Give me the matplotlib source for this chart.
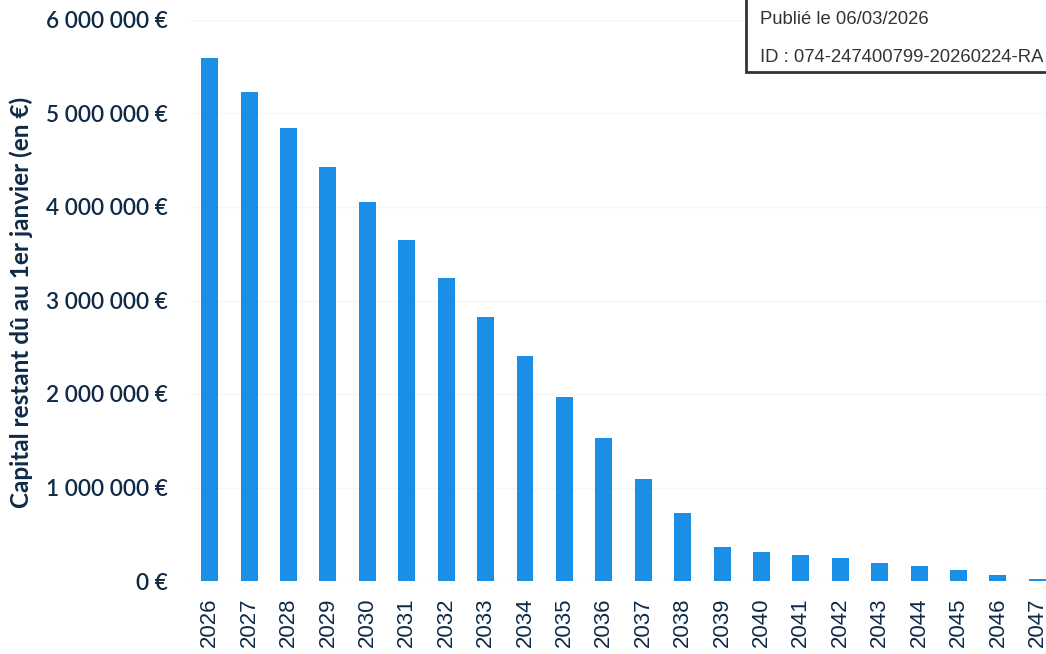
import matplotlib
matplotlib.use("Agg")
import matplotlib.pyplot as plt
from matplotlib.ticker import FuncFormatter
from matplotlib.patches import Rectangle

years = [str(y) for y in range(2026, 2048)]
capital = [5590000, 5230000, 4840000, 4430000, 4050000, 3650000, 3240000,
           2820000, 2410000, 1970000, 1530000, 1090000, 730000, 360000,
           310000, 280000, 245000, 195000, 160000, 120000, 60000, 20000]
y_ticks = [0, 1000000, 2000000, 3000000, 4000000, 5000000, 6000000]
y_label = "Capital restant dû au 1er janvier (en €)"
stamp_lines = ["Publié le 06/03/2026", "ID : 074-247400799-20260224-RA"]

NAVY = "#0e2a47"
BLUE = "#1b8fe6"

W, H = 1046, 654
fig = plt.figure(figsize=(W / 100, H / 100), dpi=100)
ax = fig.add_axes([190 / W, (H - 581) / H, (1046 - 190) / W, (581 - 20) / H])

x = list(range(len(years)))
ax.bar(x, capital, width=0.43, color=BLUE, zorder=3)

ax.set_xlim(-0.5, 21.22)
ax.set_ylim(0, 6000000)
ax.set_yticks(y_ticks)
ax.yaxis.set_major_formatter(FuncFormatter(
    lambda v, p: "{:,.0f} €".format(v).replace(",", " ")))
ax.set_xticks(x)
ax.set_xticklabels(years, rotation=90, fontsize=16, color=NAVY,
                   family=["Liberation Sans", "DejaVu Sans"])
for lab in ax.get_yticklabels():
    lab.set_family(["Lato", "DejaVu Sans"])
    lab.set_fontsize(16.3)
    lab.set_color(NAVY)
    lab.set_fontweight("semibold")
ax.tick_params(axis="y", length=0, pad=16)
ax.tick_params(axis="x", length=0, pad=12)
for s in ax.spines.values():
    s.set_visible(False)
ax.grid(axis="y", color="#f5f5f5", linewidth=1, zorder=0)

fig.text(21 / W, (H - 302) / H, y_label, rotation=90, ha="center", va="center",
         fontsize=17.5, fontweight="bold", color=NAVY,
         family=["Lato", "DejaVu Sans"])

# stamp box
box = Rectangle((746 / W, (H - 72) / H), 320 / W, 90 / H, transform=fig.transFigure,
                facecolor="white", edgecolor="#333333", linewidth=2, zorder=10)
fig.add_artist(box)
fig.text(760 / W, (H - 20) / H, stamp_lines[0], fontsize=13.3, color="#333333",
         va="center", ha="left", family=["Liberation Sans", "DejaVu Sans"], zorder=11)
fig.text(760 / W, (H - 57) / H, stamp_lines[1], fontsize=13.3, color="#333333",
         va="center", ha="left", family=["Liberation Sans", "DejaVu Sans"], zorder=11)

fig.savefig("out.png", dpi=100)
